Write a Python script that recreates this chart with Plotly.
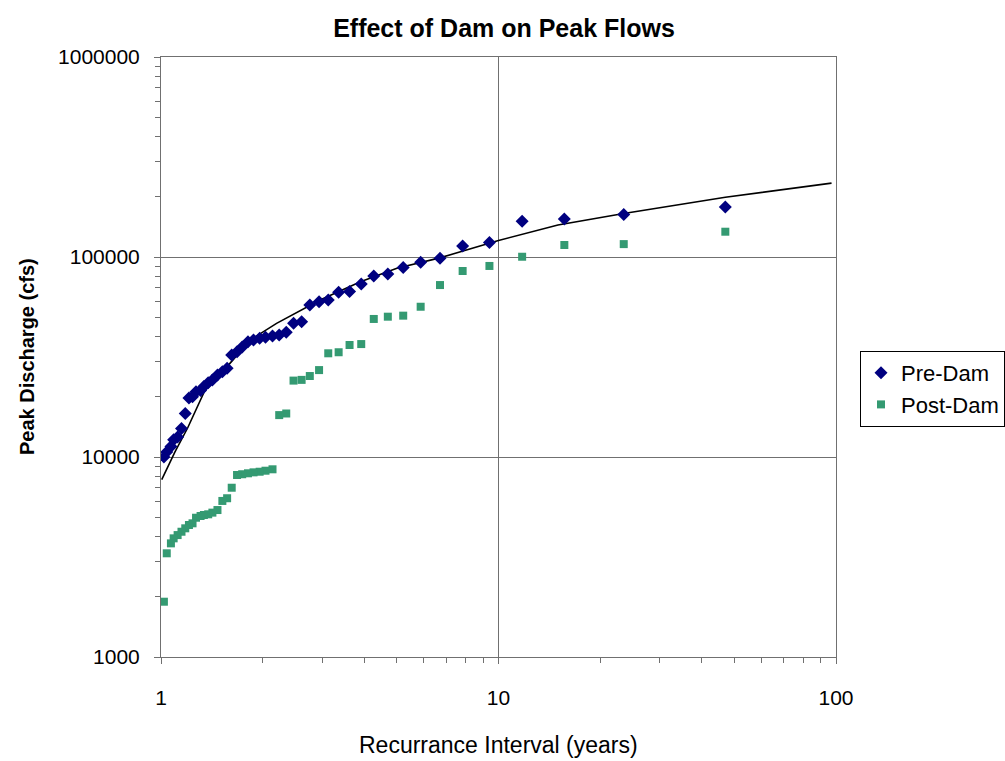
import plotly.graph_objects as go

# Recurrence interval (years) for ranks 1..46
recurrence = [47, 23.5, 15.67, 11.75, 9.4, 7.83, 6.71, 5.88, 5.22, 4.7,
              4.27, 3.92, 3.62, 3.36, 3.13, 2.94, 2.76, 2.61, 2.47, 2.35,
              2.24, 2.14, 2.04, 1.96, 1.88, 1.81, 1.74, 1.68, 1.62, 1.57,
              1.52, 1.47, 1.42, 1.38, 1.34, 1.31, 1.27, 1.24, 1.21, 1.18,
              1.15, 1.12, 1.09, 1.07, 1.04, 1.02]

pre_dam = [178000, 163000, 155000, 151000, 118000, 113500, 98500, 94000, 88500, 82200,
           80400, 73300, 67200, 66600, 61000, 59800, 57500, 47500, 46600, 42000,
           40700, 40300, 39700, 39200, 38500, 37700, 35500, 33600, 32400, 27800,
           26700, 25700, 24300, 23500, 22500, 21500, 21200, 20000, 19700, 16500,
           13900, 12600, 12200, 11300, 10600, 10000]

post_dam = [133800, 116000, 114800, 100300, 90200, 85100, 72400, 56400, 50900, 50300,
            49000, 36700, 36300, 33400, 33000, 27200, 25400, 24300, 24100, 16500,
            16200, 8680, 8540, 8440, 8380, 8290, 8200, 8130, 7020, 6220,
            6030, 5430, 5270, 5170, 5130, 5070, 4970, 4660, 4570, 4400,
            4230, 4070, 3920, 3700, 3300, 1890]

# Fitted frequency curve
fit_x = [1.005, 1.1, 1.2, 1.35, 1.57, 1.84, 2.2, 2.6, 2.96, 3.9, 5.0, 6.7, 10, 15, 23.5, 47, 97]
fit_y = [7700, 10600, 14000, 21600, 28300, 38500, 46600, 54300, 61000, 75200, 87800, 99000,
         121000, 144500, 165000, 199000, 234000]

x_ticks = [1, 10, 100]
y_ticks = [1000, 10000, 100000, 1000000]

FONT = "Liberation Sans, Arial, sans-serif"
LINE = "#707070"

fig = go.Figure()
fig.add_trace(go.Scatter(x=fit_x, y=fit_y, mode="lines", line=dict(color="black", width=1.6),
                         showlegend=False, hoverinfo="skip"))
fig.add_trace(go.Scatter(x=recurrence, y=pre_dam, mode="markers", name="Pre-Dam",
                         marker=dict(symbol="diamond", size=10, color="#000080")))
fig.add_trace(go.Scatter(x=recurrence, y=post_dam, mode="markers", name="Post-Dam",
                         marker=dict(symbol="square", size=8, color="#349a72")))

minor_x = [m * d for d in (1, 10) for m in range(2, 10)]
minor_y = [m * d for d in (1000, 10000, 100000) for m in range(2, 10)]

fig.update_layout(
    width=1005, height=761,
    margin=dict(l=161, r=169, t=57, b=104, autoexpand=False),
    paper_bgcolor="white", plot_bgcolor="white",
    font=dict(family=FONT, color="black"),
    title=dict(text="<b>Effect of Dam on Peak Flows</b>", x=504 / 1005, xanchor="center",
               y=1 - 28 / 761, yanchor="middle", font=dict(size=25, family=FONT)),
    legend=dict(xref="container", yref="container", x=860 / 1005, y=1 - 351 / 761,
                xanchor="left", yanchor="top",
                bordercolor="black", borderwidth=1, bgcolor="white",
                font=dict(size=22, family=FONT), tracegroupgap=0),
    showlegend=True,
)

fig.update_xaxes(type="log", range=[0, 2], tickvals=x_ticks, ticktext=[str(v) for v in x_ticks],
                 showline=True, linecolor=LINE, linewidth=1, mirror=True,
                 showgrid=True, gridcolor=LINE, gridwidth=1,
                 ticks="outside", ticklen=6, tickcolor=LINE, ticklabelstandoff=16,
                 tickfont=dict(size=21, family=FONT),
                 minor=dict(tickvals=minor_x, ticks="outside", ticklen=5, tickcolor=LINE, showgrid=False),
                 zeroline=False)
fig.update_yaxes(type="log", range=[3, 6], tickvals=y_ticks, ticktext=[str(v) for v in y_ticks],
                 showline=True, linecolor=LINE, linewidth=1, mirror=True,
                 showgrid=True, gridcolor=LINE, gridwidth=1,
                 ticks="outside", ticklen=6, tickcolor=LINE, ticklabelstandoff=10,
                 tickfont=dict(size=21, family=FONT),
                 minor=dict(tickvals=minor_y, ticks="outside", ticklen=5, tickcolor=LINE, showgrid=False),
                 zeroline=False)

fig.add_annotation(text="Recurrance Interval (years)", xref="paper", yref="paper",
                   x=0.5, y=(657 - 745) / 600, xanchor="center", yanchor="middle",
                   showarrow=False, font=dict(size=23, family=FONT))
fig.add_annotation(text="<b>Peak Discharge (cfs)</b>", xref="paper", yref="paper",
                   x=(27 - 161) / 675, y=0.5, xanchor="center", yanchor="middle",
                   textangle=-90, showarrow=False, font=dict(size=20, family=FONT))

fig.write_html("out.html")
